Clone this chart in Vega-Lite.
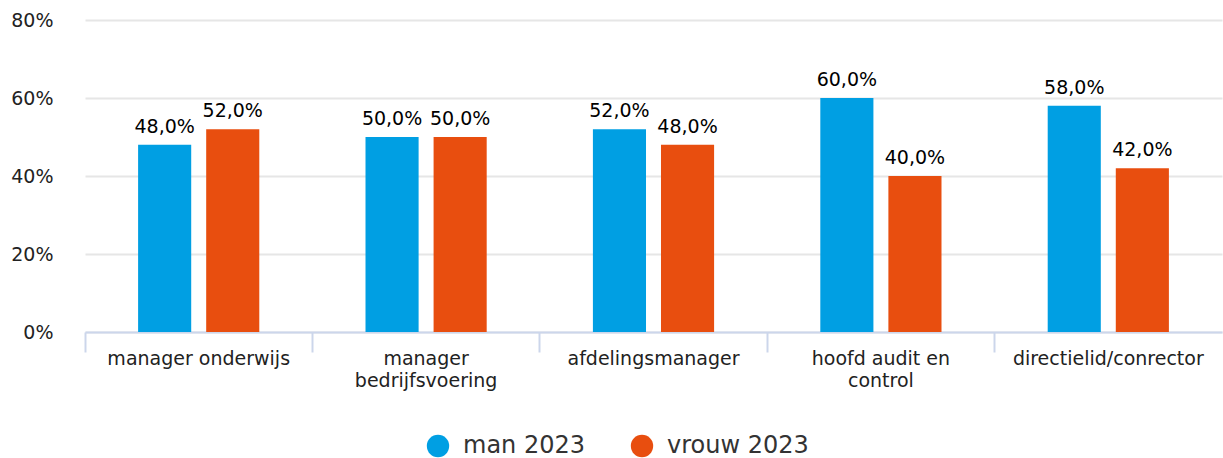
{
  "$schema": "https://vega.github.io/schema/vega-lite/v6.json",
  "autosize": {"type": "none"},
  "padding": {"left": 85, "top": 20, "right": 1, "bottom": 126},
  "width": 1137,
  "height": 312,
  "config": {
    "font": "DejaVu Sans",
    "view": {"stroke": null},
    "locale": {"number": {"decimal": ",", "thousands": ".", "grouping": [3], "currency": ["€", ""]}}
  },
  "data": {
    "values": [
      {"functie": "manager onderwijs", "groep": "man 2023", "aandeel": 0.48},
      {"functie": "manager onderwijs", "groep": "vrouw 2023", "aandeel": 0.52},
      {"functie": "manager bedrijfsvoering", "groep": "man 2023", "aandeel": 0.50},
      {"functie": "manager bedrijfsvoering", "groep": "vrouw 2023", "aandeel": 0.50},
      {"functie": "afdelingsmanager", "groep": "man 2023", "aandeel": 0.52},
      {"functie": "afdelingsmanager", "groep": "vrouw 2023", "aandeel": 0.48},
      {"functie": "hoofd audit en control", "groep": "man 2023", "aandeel": 0.60},
      {"functie": "hoofd audit en control", "groep": "vrouw 2023", "aandeel": 0.40},
      {"functie": "directielid/conrector", "groep": "man 2023", "aandeel": 0.58},
      {"functie": "directielid/conrector", "groep": "vrouw 2023", "aandeel": 0.42}
    ]
  },
  "encoding": {
    "x": {
      "field": "functie", "type": "nominal", "sort": null,
      "scale": {"paddingInner": 0, "paddingOuter": 0},
      "axis": {
        "title": null, "labelAngle": 0, "labelFontSize": 19, "labelColor": "#222222",
        "domainColor": "#ccd6eb", "domainWidth": 2, "tickColor": "#ccd6eb", "tickWidth": 2,
        "tickSize": 20, "bandPosition": 0, "labelPadding": -3, "labelLineHeight": 22,
        "labelBaseline": "top", "labelLimit": 400,
        "labelExpr": "datum.label == 'manager bedrijfsvoering' ? ['manager', 'bedrijfsvoering'] : datum.label == 'hoofd audit en control' ? ['hoofd audit en', 'control'] : datum.label"
      }
    },
    "xOffset": {
      "field": "groep", "type": "nominal",
      "scale": {"paddingInner": 0.22, "paddingOuter": 0.78}
    },
    "y": {
      "field": "aandeel", "type": "quantitative",
      "scale": {"domain": [0, 0.8]},
      "axis": {
        "title": null, "format": ".0%", "values": [0, 0.2, 0.4, 0.6, 0.8],
        "labelFontSize": 19, "labelColor": "#222222", "labelPadding": 32,
        "ticks": false, "domain": false, "gridColor": "#e6e6e6", "gridWidth": 2
      }
    }
  },
  "layer": [
    {
      "mark": {"type": "bar"},
      "encoding": {
        "color": {
          "field": "groep", "type": "nominal",
          "scale": {"domain": ["man 2023", "vrouw 2023"], "range": ["#009fe3", "#e84e0f"]},
          "legend": {
            "title": null, "orient": "none", "direction": "horizontal",
            "legendX": 341, "legendY": 414,
            "symbolType": "circle", "symbolSize": 500, "symbolStrokeWidth": 0,
            "labelFontSize": 24, "labelColor": "#333333", "columnPadding": 44,
            "labelOffset": 13
          }
        }
      }
    },
    {
      "mark": {"type": "text", "baseline": "bottom", "dy": -8, "fontSize": 19, "color": "#000000"},
      "encoding": {
        "text": {"field": "aandeel", "type": "quantitative", "format": ".1%"}
      }
    }
  ]
}
